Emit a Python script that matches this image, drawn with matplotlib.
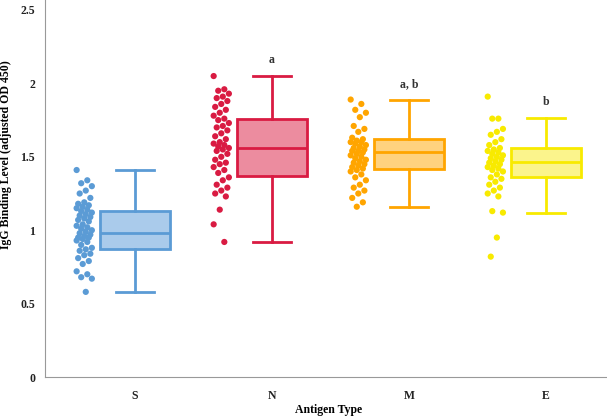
import matplotlib
matplotlib.use('Agg')
import matplotlib.pyplot as plt

# Antigen groups
categories = ['S', 'N', 'M', 'E']
colors = ['#5B9BD5', '#D91B42', '#FFA500', '#F8EA00']
face_colors = ['#AACBEB', '#EC8C9F', '#FFD27F', '#FBF48C']

# Individual sample values
s_vals = [1.41, 1.34, 1.32, 1.30, 1.27, 1.25, 1.22, 1.19, 1.18, 1.17, 1.16, 1.15,
          1.14, 1.13, 1.12, 1.11, 1.10, 1.09, 1.08, 1.07, 1.06, 1.04, 1.03, 1.02,
          1.01, 1.00, 0.99, 0.98, 0.97, 0.96, 0.95, 0.95, 0.94, 0.93, 0.92, 0.90,
          0.88, 0.87, 0.86, 0.84, 0.83, 0.81, 0.79, 0.77, 0.72, 0.70, 0.68, 0.67, 0.58]
n_vals = [2.05, 1.96, 1.95, 1.93, 1.91, 1.90, 1.88, 1.86, 1.84, 1.82, 1.80, 1.78,
          1.76, 1.75, 1.73, 1.71, 1.70, 1.68, 1.66, 1.64, 1.62, 1.60, 1.59, 1.58,
          1.57, 1.56, 1.55, 1.54, 1.52, 1.50, 1.48, 1.46, 1.45, 1.43, 1.41, 1.39,
          1.36, 1.34, 1.31, 1.29, 1.27, 1.25, 1.23, 1.14, 1.04, 0.92]
m_vals = [1.89, 1.86, 1.82, 1.80, 1.77, 1.71, 1.69, 1.67, 1.63, 1.62, 1.61, 1.60,
          1.60, 1.59, 1.58, 1.57, 1.56, 1.55, 1.54, 1.54, 1.53, 1.52, 1.51, 1.50,
          1.49, 1.48, 1.47, 1.46, 1.45, 1.44, 1.43, 1.42, 1.41, 1.40, 1.38, 1.36,
          1.34, 1.31, 1.29, 1.27, 1.25, 1.22, 1.19, 1.16]
e_vals = [1.91, 1.76, 1.76, 1.69, 1.67, 1.65, 1.62, 1.60, 1.58, 1.56, 1.55, 1.54,
          1.53, 1.52, 1.51, 1.50, 1.49, 1.48, 1.47, 1.46, 1.45, 1.44, 1.43, 1.42,
          1.41, 1.40, 1.38, 1.36, 1.35, 1.33, 1.31, 1.29, 1.27, 1.25, 1.23, 1.13,
          1.12, 0.95, 0.82]

# Box statistics as drawn
whislo = [0.58, 0.92, 1.16, 1.12]
q1 = [0.87, 1.37, 1.42, 1.36]
med = [0.98, 1.56, 1.535, 1.465]
q3 = [1.13, 1.76, 1.62, 1.56]
whishi = [1.41, 2.05, 1.885, 1.765]

# significance letters
letters = ['', 'a', 'a, b', 'b']

plt.rcParams['font.family'] = ['Liberation Serif', 'DejaVu Serif']
plt.rcParams['font.weight'] = 'bold'

fig = plt.figure(figsize=(6.07, 4.18), dpi=100)
ax = fig.add_axes([0.074, 0.098, 0.926, 0.902])

groups = [s_vals, n_vals, m_vals, e_vals]

for i, vals in enumerate(groups):
    stats = [{'whislo': whislo[i], 'q1': q1[i], 'med': med[i], 'q3': q3[i],
              'whishi': whishi[i], 'fliers': []}]
    c = colors[i]
    ax.bxp(stats, positions=[i], widths=0.51, patch_artist=True, showfliers=False,
           boxprops=dict(facecolor=face_colors[i], edgecolor=c, linewidth=2.0),
           medianprops=dict(color=c, linewidth=2.0),
           whiskerprops=dict(color=c, linewidth=2.0),
           capprops=dict(color=c, linewidth=2.0),
           capwidths=0.28)
    # jittered points to the left of the box
    xs = [i - 0.37 + ((k * 7) % 11 - 5) / 90.0 for k in range(len(vals))]
    ax.scatter(xs, vals, s=20, color=c, edgecolors='none', zorder=3)
    if letters[i]:
        ax.text(i, whishi[i] + 0.07, letters[i], ha='center', va='bottom',
                fontsize=8.5, fontweight='bold', color='#333333')

ax.set_xlim(-0.657, 3.445)
ax.set_ylim(0, 2.568)
ax.set_yticks([0, 0.5, 1, 1.5, 2, 2.5])
ax.set_yticklabels(['0', '0.5', '1', '1.5', '2', '2.5'])
ax.set_xticks(range(len(categories)))
ax.set_xticklabels(categories)
ax.tick_params(axis='y', length=0, labelsize=8.5, pad=7)
ax.tick_params(axis='x', length=0, labelsize=8.5, pad=9)
for lab in ax.get_xticklabels() + ax.get_yticklabels():
    lab.set_fontweight('bold')
    lab.set_color('#222222')

ax.spines['top'].set_visible(False)
ax.spines['right'].set_visible(False)
ax.spines['left'].set_color('#999999')
ax.spines['bottom'].set_color('#999999')

ax.set_ylabel('IgG Binding Level (adjusted OD 450)', fontsize=8.5, fontweight='bold')
ax.yaxis.set_label_coords(-0.058, 0.59)
ax.set_xlabel('Antigen Type', fontsize=8.5, fontweight='bold')
ax.xaxis.set_label_coords(0.505, -0.072)

fig.savefig('out.png', dpi=100)
